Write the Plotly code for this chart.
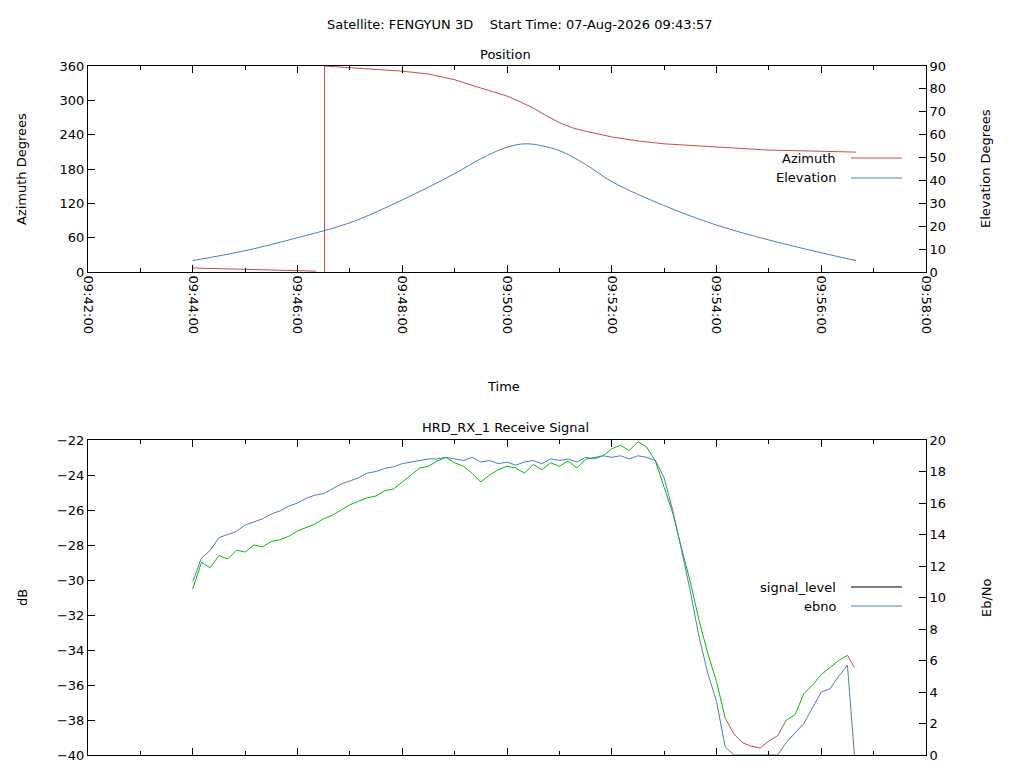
import plotly.graph_objects as go
from datetime import datetime, timedelta

DAY = "2026-08-07 "
# ---------------- Position data ----------------
elev_times = ["09:44:00","09:45:00","09:46:00","09:47:00","09:48:00","09:49:00","09:49:30",
              "09:50:00","09:50:23","09:51:00","09:51:30","09:52:00","09:53:00","09:54:00",
              "09:55:00","09:56:00","09:56:40"]
elev_vals = [5, 9.3, 15, 21.5, 31.5, 43, 49.5, 54.5, 56, 53, 47, 39.5, 29, 20.5, 14, 8.4, 5]

az_times = ["09:44:00","09:45:00","09:45:30","09:46:21","09:46:25","09:46:31","09:46:31",
            "09:46:50","09:47:00","09:47:30","09:48:00","09:48:30","09:49:00","09:49:30","09:50:00",
            "09:50:15","09:50:30","09:50:45","09:51:00","09:51:15","09:51:30","09:52:00",
            "09:52:30","09:53:00","09:54:00","09:55:00","09:56:00","09:56:40"]
az_vals = [7, 5, 3.5, 1.5, None, 0, 360, 358, 357, 354.5, 351, 346, 336, 321.5, 307.5,
           297.5, 286.6, 273, 261, 252, 246, 236, 229, 224, 218, 213, 211, 209.5]

# ---------------- Receive signal data (10 s samples from 09:44:00) ----------------
sig_start = "09:44:00"
signal_level = [-30.5, -29.0, -29.3, -28.6, -28.8, -28.3,
                -28.4, -28.0, -28.1, -27.8, -27.7, -27.5,
                -27.2, -27.0, -26.8, -26.5, -26.3, -26.0,
                -25.7, -25.5, -25.3, -25.2, -24.9, -24.8,
                -24.4, -24.0, -23.6, -23.5, -23.2, -23.0,
                -23.3, -23.5, -23.9, -24.4, -24.0, -23.7,
                -23.5, -23.6, -23.9, -23.4, -23.7, -23.3,
                -23.5, -23.2, -23.6, -23.1, -23.0, -22.9,
                -22.5, -22.3, -22.6, -22.1, -22.4, -23.2,
                -24.7, -26.2, -28.2, -30.1, -32.3, -34.2,
                -35.8, -37.9, -38.8, -39.3, -39.5, -39.6,
                -39.2, -38.9, -38.0, -37.7, -36.5, -36.0,
                -35.4, -35.0, -34.6, -34.3, -35.0]
ebno = [11.0, 12.5, 13.0, 13.8, 14.0, 14.2,
        14.6, 14.8, 15.0, 15.3, 15.5, 15.8,
        16.0, 16.3, 16.5, 16.6, 16.9, 17.2,
        17.4, 17.6, 17.9, 18.0, 18.2, 18.3,
        18.5, 18.6, 18.7, 18.8, 18.8, 18.9,
        18.8, 18.7, 18.9, 18.6, 18.7, 18.5,
        18.6, 18.4, 18.6, 18.7, 18.5, 18.8,
        18.7, 18.8, 18.6, 18.9, 18.8, 19.0,
        18.9, 19.0, 18.8, 19.0, 18.9, 18.7,
        17.6, 15.5, 13.0, 10.4, 7.5, 5.2,
        3.4, 0.5, 0, 0, 0, 0,
        0, 0, 0.8, 1.4, 2.0, 3.0,
        4.0, 4.2, 5.0, 5.7, 0.0]

def t(s):
    return DAY + s

t0 = datetime.strptime(DAY + sig_start, "%Y-%m-%d %H:%M:%S")
sig_times = [(t0 + timedelta(seconds=10 * i)).strftime("%Y-%m-%d %H:%M:%S") for i in range(len(signal_level))]
sig_times[-1] = DAY + "09:56:38"

RED = "#c0504d"; BLUE = "#4a7ebb"; GREEN = "#00c000"
FONT = "DejaVu Sans"

# split signal into green / red segments
n = len(signal_level)
is_red = [v < -38 or i == n - 1 for i, v in enumerate(signal_level)]
green_y = [v if not is_red[i] else None for i, v in enumerate(signal_level)]
red_y = [v if (is_red[i] or (i + 1 < n and is_red[i + 1]) or (i > 0 and is_red[i - 1])) else None
         for i, v in enumerate(signal_level)]

fig = go.Figure()
fig.add_trace(go.Scatter(x=[t(s) for s in az_times], y=az_vals, mode="lines",
                         line=dict(color=RED, width=1), xaxis="x", yaxis="y", connectgaps=False))
fig.add_trace(go.Scatter(x=[t(s) for s in elev_times], y=elev_vals, mode="lines",
                         line=dict(color=BLUE, width=1, shape="spline"), xaxis="x", yaxis="y2"))
fig.add_trace(go.Scatter(x=sig_times, y=green_y, mode="lines", line=dict(color=GREEN, width=1),
                         xaxis="x2", yaxis="y3"))
fig.add_trace(go.Scatter(x=sig_times, y=red_y, mode="lines", line=dict(color=RED, width=1),
                         xaxis="x2", yaxis="y3"))
fig.add_trace(go.Scatter(x=sig_times, y=ebno, mode="lines", line=dict(color=BLUE, width=1),
                         xaxis="x2", yaxis="y4"))

xr = [t("09:42:00"), t("09:58:00")]
xdom = [80 / 1024, 918 / 1024]
top_dom = [1 - 264 / 768, 1 - 58 / 768]
bot_dom = [1 - 747 / 768, 1 - 432 / 768]

def xax(dom_anchor, labels):
    return dict(type="date", range=xr, domain=xdom, anchor=dom_anchor, dtick=120000,
                tick0=t("09:42:00"), tickformat="%H:%M:%S", tickangle=90, automargin=False,
                ticks="inside", ticklen=7, tickcolor="black", showgrid=False, zeroline=False,
                showline=True, linecolor="black", linewidth=1, mirror="ticks",
                showticklabels=labels, tickfont=dict(family=FONT, size=13, color="black"),
                minor=dict(ticks="inside", dtick=60000, ticklen=4, tickcolor="black"))

def yax(rng, dt, dom, side, anchor, overlay=None):
    d = dict(range=rng, dtick=dt, domain=dom, side=side, anchor=anchor, automargin=False,
             ticks="inside", ticklen=7, tickcolor="black", showgrid=False, zeroline=False,
             showline=True, linecolor="black", linewidth=1,
             tickfont=dict(family=FONT, size=13, color="black"))
    if overlay:
        d["overlaying"] = overlay
    return d

fig.update_layout(
    width=1024, height=768, margin=dict(l=0, r=0, t=0, b=0, autoexpand=False),
    paper_bgcolor="white", plot_bgcolor="white", showlegend=False,
    font=dict(family=FONT, size=13, color="black"),
    xaxis=xax("y", True),
    xaxis2=xax("y3", False),
    yaxis=yax([0, 360], 60, top_dom, "left", "x"),
    yaxis2=yax([0, 90], 10, top_dom, "right", "x", "y"),
    yaxis3=yax([-40, -22], 2, bot_dom, "left", "x2"),
    yaxis4=yax([0, 20], 2, bot_dom, "right", "x2", "y3"),
)

def ann(text, x, y, angle=0, xanchor="center"):
    fig.add_annotation(text=text, x=x / 1024, y=1 - y / 768, xref="paper", yref="paper",
                       showarrow=False, textangle=angle, xanchor=xanchor, yanchor="middle",
                       font=dict(family=FONT, size=13, color="black"))

ann("Satellite: FENGYUN 3D    Start Time: 07-Aug-2026 09:43:57", 512, 17)
ann("Position", 497, 46)
ann("HRD_RX_1 Receive Signal", 497, 419)
ann("Time", 495, 379)
ann("Azimuth Degrees", 14, 161, -90)
ann("Elevation Degrees", 978, 161, -90)
ann("dB", 14, 590, -90)
ann("Eb/No", 978, 590, -90)

legend = [("Azimuth", 150, RED), ("Elevation", 170, BLUE),
          ("signal_level", 579, "black"), ("ebno", 598, BLUE)]
for name, y, col in legend:
    ann(name, 830, y, xanchor="right")
    fig.add_shape(type="line", xref="paper", yref="paper", x0=843 / 1024, x1=894 / 1024,
                  y0=1 - y / 768, y1=1 - y / 768, line=dict(color=col, width=1))

fig.write_html("out.html")
